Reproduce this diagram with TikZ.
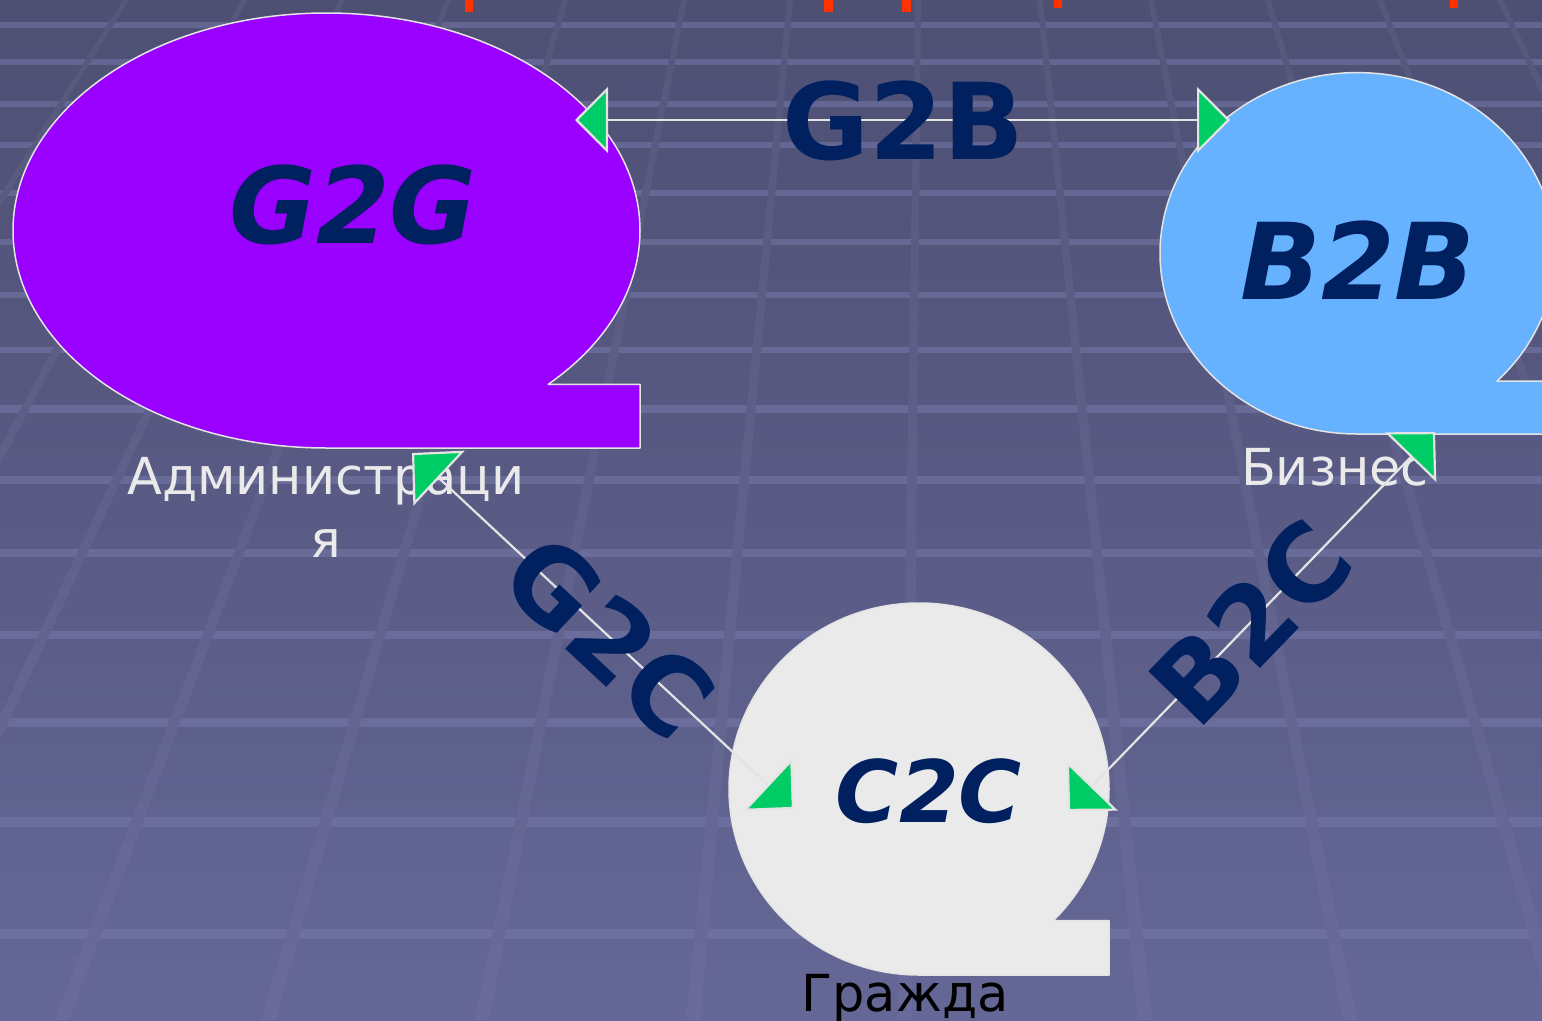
\documentclass[tikz,border=0pt]{standalone}
\usepackage{fontspec}
\setmainfont{DejaVu Sans}[BoldFont={DejaVu Sans Bold},ItalicFont={DejaVu Sans Oblique},BoldItalicFont={DejaVu Sans Bold Oblique}]
\usetikzlibrary{arrows.meta}
\definecolor{bgtop}{HTML}{4D4F73}
\definecolor{bgbot}{HTML}{656796}
\definecolor{striptop}{HTML}{55577B}
\definecolor{stripbot}{HTML}{6A6B9A}
\definecolor{bandcol}{HTML}{7678AA}
\definecolor{redc}{HTML}{FF3300}
\definecolor{navy}{HTML}{002060}
\definecolor{purp}{HTML}{9900FF}
\definecolor{skyb}{HTML}{66B2FF}
\definecolor{lgray}{HTML}{EAEAEA}
\definecolor{edgec}{HTML}{E4E4E4}
\definecolor{agreen}{HTML}{00CC66}
\tikzset{
  tape/.style={draw=edgec,line width=1.5pt,line join=round},
  conn/.style={draw=edgec,line width=2.2pt},
  bigbi/.style={inner sep=0pt,text=navy,font=\fontsize{106}{120}\selectfont\bfseries\itshape},
  midbi/.style={inner sep=0pt,text=navy,font=\fontsize{86}{100}\selectfont\bfseries\itshape},
  linkb/.style={inner sep=0pt,text=navy,font=\fontsize{106}{120}\selectfont\bfseries},
  lbl/.style={inner sep=0pt,text=lgray,font=\fontsize{51}{62}\selectfont},
}
\begin{document}
\begin{tikzpicture}[x=1pt,y=-1pt]
\useasboundingbox (0,0) rectangle (1542,1020);
\clip (0,0) rectangle (1542,1020);
% background
\shade[top color=bgtop,bottom color=bgbot] (0,0) rectangle (1542,1020);
\foreach \y in {25,62,104,145,193,242,295,350,409,480,553,635,722,822,934}{
  \pgfmathsetmacro\t{5+\y/180}
  \fill[bandcol,opacity=0.55] (0,\y-\t/2) rectangle (1542,\y+\t/2);
}
\foreach \a/\b in {126/-512,244/-302,342/-137,448/62,565/268,684/482,790/693,918/905,1040/1145,1151/1350,1268/1560,1380/1770,1500/1980}{
  \shade[top color=striptop,bottom color=stripbot] (\a-3,0) -- (\a+3,0) -- (\b+7,1020) -- (\b-7,1020) -- cycle;
}
% red marks (cut-off title)
\fill[redc] (465,0) rectangle (473,12);
\fill[redc] (824,0) rectangle (833,12);
\fill[redc] (902,0) rectangle (911,12);
\fill[redc] (1054,0) rectangle (1062,8);
\fill[redc] (1450,0) rectangle (1458,8);
% shapes
\coordinate (g2g) at (326.5,230.5);
\coordinate (b2b) at (1357.4,253.3);
\coordinate (c2c) at (919,789);
\path[tape,fill=purp] (326.5,448) arc[start angle=90,end angle=405,x radius=313.5,y radius=217.5] -- (640,384.3) -- (640,448) -- cycle;
\path[tape,fill=skyb] (1357.4,434) arc[start angle=90,end angle=405,x radius=197.4,y radius=180.7] -- (1554.8,381.1) -- (1554.8,434) -- cycle;
\path[tape,fill=lgray] (919,975) arc[start angle=90,end angle=405,x radius=190,y radius=186] -- (1109,920.5) -- (1109,975) -- cycle;
\node[bigbi,anchor=base] (g2gt) at (353,243) {G2G};
\node[bigbi,anchor=base] (b2bt) at (1358,299) {B2B};
\node[midbi,anchor=base] (c2ct) at (929,822) {C2C};
% labels
\node[lbl,anchor=base] (adm1) at (326,494) {Администраци};
\node[lbl,anchor=base] (adm2) at (326,557) {я};
\node[lbl,anchor=base] (biz) at (1335,485) {Бизнес};
\node[lbl,text=black,anchor=base] (grazh) at (905,1011) {Гражда};
% connectors
\coordinate (g2bL) at (575,120);
\coordinate (g2bR) at (1230,120);
\coordinate (g2cA) at (412,453);
\coordinate (g2cB) at (794,809);
\coordinate (b2cA) at (1068,811);
\coordinate (b2cB) at (1435,432);
\draw[conn,{Triangle[length=33pt,width=66pt,fill=agreen]}-{Triangle[length=33pt,width=66pt,fill=agreen]}] (g2bL) -- (g2bR);
\draw[conn,{Triangle[length=37pt,width=75pt,fill=agreen]}-{Triangle[length=36pt,width=72pt,fill=agreen]}] (g2cA) -- (g2cB);
\draw[conn,{Triangle[length=35pt,width=71pt,fill=agreen]}-{Triangle[length=35pt,width=71pt,fill=agreen]}] (b2cA) -- (b2cB);
% connector labels
\node[linkb,anchor=base] (g2bt) at (903,159) {G2B};
\node[linkb,rotate=-43] (g2ct) at (609,637) {G2C};
\node[linkb,rotate=45.9] (b2ct) at (1251,622) {B2C};
\end{tikzpicture}
\end{document}
